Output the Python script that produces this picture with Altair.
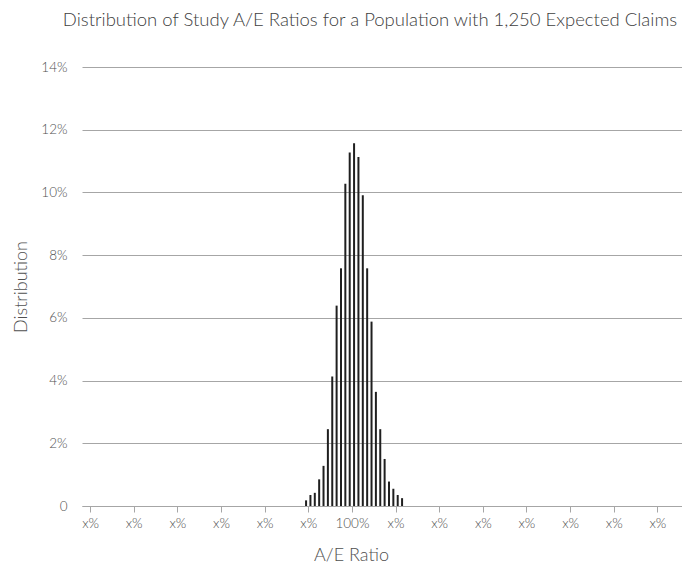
import altair as alt
import pandas as pd

# A/E ratio bins (bar centres, %) and distribution (%)
ae_ratio = [89.5, 90.5, 91.5, 92.5, 93.5, 94.5, 95.5, 96.5, 97.5, 98.5, 99.5, 100.5,
            101.5, 102.5, 103.5, 104.5, 105.5, 106.5, 107.5, 108.5, 109.5, 110.5, 111.5]
distribution = [0.18, 0.35, 0.42, 0.85, 1.28, 2.45, 4.13, 6.39, 7.58, 10.28, 11.27, 11.57,
                11.13, 9.91, 7.58, 5.88, 3.64, 2.45, 1.50, 0.78, 0.55, 0.35, 0.25]
x_ticks = [40, 50, 60, 70, 80, 90, 100, 110, 120, 130, 140, 150, 160, 170]
y_ticks = [0, 2, 4, 6, 8, 10, 12, 14]

df = pd.DataFrame({"ae": ae_ratio, "dist": distribution})

FONT = "Lato"
TXT = "#505050"

chart = alt.Chart(df).mark_bar(size=2, color="#1f1f1f").encode(
    x=alt.X("ae:Q",
            scale=alt.Scale(domain=[39.3, 174.5], nice=False, zero=False),
            axis=alt.Axis(values=x_ticks,
                          labelExpr="datum.value == 100 ? '100%' : 'x%'",
                          title="A/E Ratio", grid=False,
                          domainColor="#a6a6a6", tickColor="#a6a6a6", tickSize=6,
                          labelPadding=4, labelFontSize=13.5, labelColor=TXT,
                          labelFont=FONT, labelFontWeight=300,
                          titleFont=FONT, titleFontWeight=300, titleFontSize=18,
                          titleColor=TXT, titleX=269, titleY=54,
                          titleBaseline="alphabetic", titleAlign="center",
                          labelFlush=False)),
    y=alt.Y("dist:Q",
            scale=alt.Scale(domain=[0, 14], nice=False),
            axis=alt.Axis(values=y_ticks,
                          labelExpr="datum.value == 0 ? '0' : datum.value + '%'",
                          title="Distribution", grid=True, gridColor="#a6a6a6",
                          gridWidth=1, domain=False, ticks=False, tickSize=0,
                          labelPadding=15, labelFontSize=13.5, labelColor=TXT,
                          labelFont=FONT, labelFontWeight=300,
                          titleFont=FONT, titleFontWeight=300, titleFontSize=18,
                          titleColor=TXT, titleAngle=-90, titleX=-61, titleY=219.5,
                          titleBaseline="middle", titleAlign="center")),
).properties(
    width=600, height=439,
    title=alt.TitleParams("Distribution of Study A/E Ratios for a Population with 1,250 Expected Claims",
                          font=FONT, fontWeight=300, fontSize=18.5, color="#404040",
                          anchor="middle", dx=-12, offset=31),
    autosize=alt.AutoSizeParams(type="none"),
    padding={"left": 74, "top": 59, "right": 0, "bottom": 62},
).configure_view(stroke=None)

chart.save("out.html", embed_options={"renderer": "svg", "actions": False})
